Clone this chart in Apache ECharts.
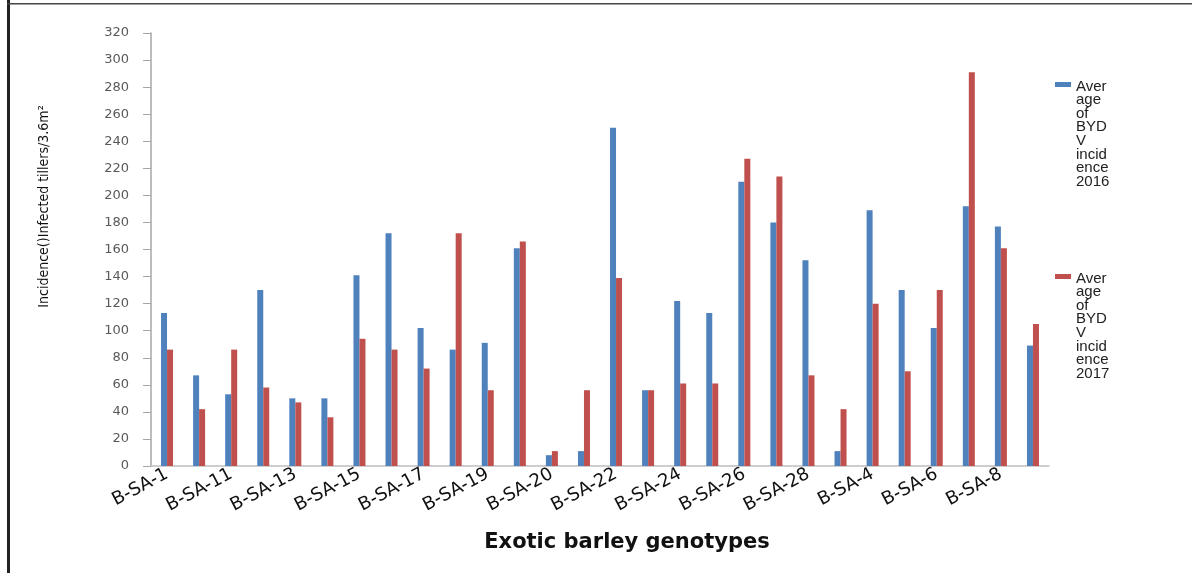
<!DOCTYPE html>
<html>
<head>
<meta charset="utf-8">
<script src="https://cdn.jsdelivr.net/npm/echarts@6/dist/echarts.min.js"></script>
<style>html,body{margin:0;padding:0;background:#fff;}#c{width:1192px;height:573px;}</style>
</head>
<body>
<div id="c"></div>
<script>
const categories = ['B-SA-1','B-SA-10','B-SA-11','B-SA-12','B-SA-13','B-SA-14','B-SA-15','B-SA-16','B-SA-17','B-SA-18','B-SA-19','B-SA-2','B-SA-20','B-SA-21','B-SA-22','B-SA-23','B-SA-24','B-SA-25','B-SA-26','B-SA-27','B-SA-28','B-SA-3','B-SA-4','B-SA-5','B-SA-6','B-SA-7','B-SA-8','B-SA-9'];
const incidence2016 = [113, 67, 53, 130, 50, 50, 141, 172, 102, 86, 91, 161, 8, 11, 250, 56, 122, 113, 210, 180, 152, 11, 189, 130, 102, 192, 177, 89];
const incidence2017 = [86, 42, 86, 58, 47, 36, 94, 86, 72, 172, 56, 166, 11, 56, 139, 56, 61, 61, 227, 214, 67, 42, 120, 70, 130, 291, 161, 105];
const seriesNames = ['Average of BYDV incidence 2016', 'Average of BYDV incidence 2017'];
const legendLines2016 = ['Aver','age','of','BYD','V','incid','ence','2016'];
const legendLines2017 = ['Aver','age','of','BYD','V','incid','ence','2017'];
const yTicks = {min: 0, max: 320, interval: 20};
const xAxisTitle = 'Exotic barley genotypes';
const yAxisTitle = 'Incidence()Infected tillers/3.6m\u00B2';

const chart = echarts.init(document.getElementById('c'), null, {renderer: 'canvas'});
const iconPath = 'path://M0,0h16v5h-16z M15.99,104h0.01v0.01h-0.01z';
function legendCfg(name, lines, top) {
  return {
    data: [name], left: 1050, top: top, orient: 'vertical',
    itemWidth: 16, itemHeight: 104, itemGap: 6, icon: iconPath,
    formatter: () => lines.join('\n'),
    textStyle: {fontFamily: 'Liberation Sans, Arial, sans-serif', fontSize: 15, lineHeight: 13.6, color: '#222'},
    selectedMode: false
  };
}
chart.setOption({
  animation: false,
  backgroundColor: '#fff',
  grid: {left: 151, right: 143, top: 33, bottom: 107, containLabel: false},
  legend: [legendCfg(seriesNames[0], legendLines2016, 74), legendCfg(seriesNames[1], legendLines2017, 266)],
  xAxis: {
    type: 'category', data: categories,
    name: xAxisTitle, nameLocation: 'middle', nameGap: 66,
    nameTextStyle: {fontFamily: 'DejaVu Sans, sans-serif', fontWeight: 'bold', fontSize: 21, color: '#111', padding: [0,0,0,54]},
    axisLine: {lineStyle: {color: '#BFBFBF', width: 1.5}},
    axisTick: {show: false},
    axisLabel: {interval: 1, rotate: 28, margin: 7, fontFamily: 'DejaVu Sans, sans-serif', fontSize: 18, color: '#111'}
  },
  yAxis: {
    type: 'value', min: yTicks.min, max: yTicks.max, interval: yTicks.interval,
    name: yAxisTitle, nameLocation: 'middle', nameGap: 100, nameRotate: 90,
    nameTextStyle: {fontFamily: 'Liberation Sans Narrow, DejaVu Sans Condensed, sans-serif', fontSize: 14, color: '#111', padding: [0,0,0,86]},
    splitLine: {show: false},
    axisLine: {show: true, lineStyle: {color: '#A6A6A6', width: 1.5}},
    axisTick: {show: true, inside: false, length: 8, lineStyle: {color: '#A6A6A6'}},
    axisLabel: {margin: 22, fontFamily: 'DejaVu Sans, sans-serif', fontSize: 13, color: '#595959'}
  },
  series: [
    {name: seriesNames[0], type: 'bar', data: incidence2016, barWidth: 6, barGap: '0%', itemStyle: {color: '#4F81BD'}},
    {name: seriesNames[1], type: 'bar', data: incidence2017, barWidth: 6, barGap: '0%', itemStyle: {color: '#C0504D'}}
  ],
  graphic: [
    {type: 'rect', shape: {x: 7, y: 0, width: 3, height: 573}, style: {fill: '#222'}, silent: true},
    {type: 'rect', shape: {x: 7, y: 3, width: 1185, height: 1.5}, style: {fill: '#444'}, silent: true}
  ]
});
</script>
</body>
</html>
